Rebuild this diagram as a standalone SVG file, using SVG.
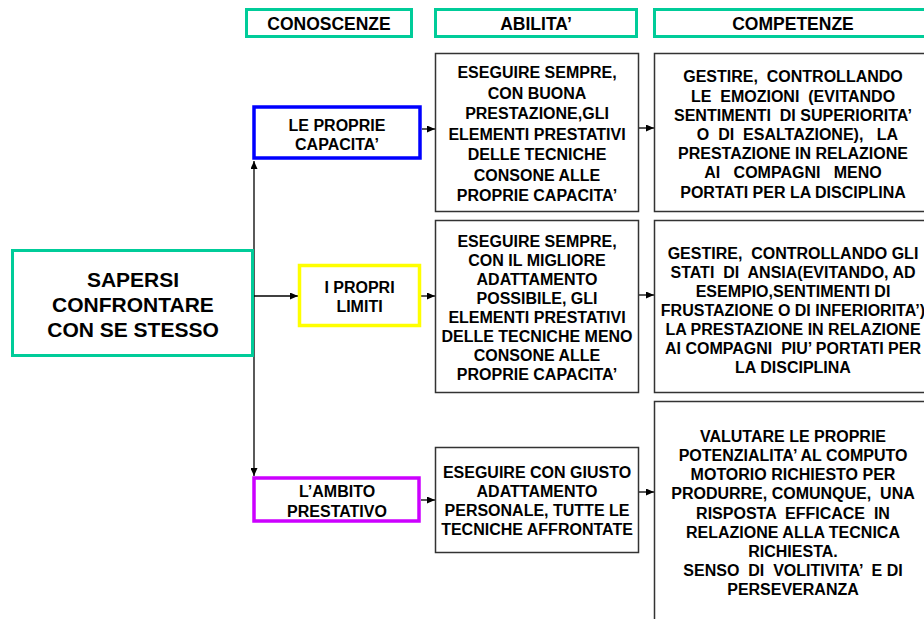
<svg xmlns="http://www.w3.org/2000/svg" width="924" height="619" viewBox="0 0 924 619">
<defs>
<style>
text{font-family:"Liberation Sans",Arial,sans-serif;font-weight:bold;fill:#000;text-anchor:middle;white-space:pre}
.h{font-size:17.5px}
.t{font-size:16px}
.big{font-size:21px}
.hdr{fill:#fff;stroke:#00cc99;stroke-width:3}
.box{fill:#fff;stroke:#333;stroke-width:1.5}
.con{stroke:#000;stroke-width:1.3;fill:none;marker-end:url(#ah)}
</style>
<marker id="ah" markerUnits="userSpaceOnUse" markerWidth="8" markerHeight="7" refX="8" refY="3.5" orient="auto">
<path d="M0,0 L8,3.5 L0,7 z" fill="#000"/>
</marker>
</defs>
<rect width="924" height="619" fill="#fff"/>

<g id="hdr-conoscenze">
<rect class="hdr" x="246.5" y="9.5" width="165" height="27"/>
<text class="h" x="329" y="30">CONOSCENZE</text>
</g>
<g id="hdr-abilita">
<rect class="hdr" x="435.5" y="9.5" width="201" height="27"/>
<text class="h" x="536" y="30">ABILITA’</text>
</g>
<g id="hdr-competenze">
<rect class="hdr" x="654.5" y="9.5" width="280" height="27"/>
<text class="h" x="793" y="30">COMPETENZE</text>
</g>

<g id="connectors">
<path class="con" d="M254,296 V161"/>
<path class="con" d="M254,296 V476"/>
<path class="con" d="M254,296 H298"/>
<path class="con" d="M422,129 H435"/>
<path class="con" d="M421,296 H435"/>
<path class="con" d="M421,500 H435"/>
<path class="con" d="M639,128 H654"/>
<path class="con" d="M639,295 H654"/>
<path class="con" d="M639,492 H654"/>
</g>

<g id="sapersi">
<rect x="12.5" y="250.5" width="240" height="105" fill="#fff" stroke="#00cc99" stroke-width="3"/>
<text class="big" x="133" y="286.5">SAPERSI</text>
<text class="big" x="133" y="311.5">CONFRONTARE</text>
<text class="big" x="133" y="336.5">CON SE STESSO</text>
</g>

<g id="capacita">
<rect x="254" y="107" width="166" height="51" fill="#fff" stroke="#0000ff" stroke-width="3.5"/>
<text class="t" x="337" y="131">LE PROPRIE</text>
<text class="t" x="337" y="150">CAPACITA’</text>
</g>

<g id="limiti">
<rect x="299.5" y="265.5" width="120" height="60" fill="#fff" stroke="#ffff00" stroke-width="3.5"/>
<text class="t" x="359.5" y="293">I PROPRI</text>
<text class="t" x="359.5" y="312">LIMITI</text>
</g>

<g id="ambito">
<rect x="254" y="478" width="165" height="43" fill="#fff" stroke="#cc00ff" stroke-width="3.5"/>
<text class="t" x="337" y="497">L’AMBITO</text>
<text class="t" x="337" y="517">PRESTATIVO</text>
</g>

<g id="abilita1">
<rect class="box" x="435.5" y="53.5" width="203" height="158"/>
<text class="t" x="537" y="78.2">ESEGUIRE SEMPRE,</text>
<text class="t" x="537" y="98.7">CON BUONA</text>
<text class="t" x="537" y="119.2">PRESTAZIONE,GLI</text>
<text class="t" x="537" y="139.7">ELEMENTI PRESTATIVI</text>
<text class="t" x="537" y="160.2">DELLE TECNICHE</text>
<text class="t" x="537" y="180.7">CONSONE ALLE</text>
<text class="t" x="537" y="201.2">PROPRIE CAPACITA’</text>
</g>

<g id="abilita2">
<rect class="box" x="435.5" y="220.5" width="203" height="172"/>
<text class="t" x="537" y="246.7">ESEGUIRE SEMPRE,</text>
<text class="t" x="537" y="265.7">CON IL MIGLIORE</text>
<text class="t" x="537" y="284.7">ADATTAMENTO</text>
<text class="t" x="537" y="303.7">POSSIBILE, GLI</text>
<text class="t" x="537" y="322.7">ELEMENTI PRESTATIVI</text>
<text class="t" x="537" y="341.7">DELLE TECNICHE MENO</text>
<text class="t" x="537" y="360.7">CONSONE ALLE</text>
<text class="t" x="537" y="379.7">PROPRIE CAPACITA’</text>
</g>

<g id="abilita3">
<rect class="box" x="435.5" y="447.5" width="203" height="105"/>
<text class="t" x="537" y="477.5">ESEGUIRE CON GIUSTO</text>
<text class="t" x="537" y="496.8">ADATTAMENTO</text>
<text class="t" x="537" y="516.1">PERSONALE, TUTTE LE</text>
<text class="t" x="537" y="535.4">TECNICHE AFFRONTATE</text>
</g>

<g id="competenze1">
<rect class="box" x="654.5" y="53.5" width="290" height="158"/>
<text class="t" x="793" y="82.4">GESTIRE,  CONTROLLANDO</text>
<text class="t" x="793" y="101.6">LE  EMOZIONI  (EVITANDO</text>
<text class="t" x="793" y="120.8">SENTIMENTI  DI SUPERIORITA’</text>
<text class="t" x="793" y="140">  O  DI  ESALTAZIONE),   LA</text>
<text class="t" x="793" y="159.2">PRESTAZIONE IN RELAZIONE</text>
<text class="t" x="793" y="178.4">AI   COMPAGNI   MENO</text>
<text class="t" x="793" y="197.6">PORTATI PER LA DISCIPLINA</text>
</g>

<g id="competenze2">
<rect class="box" x="654.5" y="220.5" width="290" height="172"/>
<text class="t" x="793" y="258.7">GESTIRE,  CONTROLLANDO GLI</text>
<text class="t" x="793" y="277.7">STATI  DI  ANSIA(EVITANDO, AD</text>
<text class="t" x="793" y="296.7">ESEMPIO,SENTIMENTI DI</text>
<text class="t" x="793" y="315.7">FRUSTAZIONE O DI INFERIORITA’)</text>
<text class="t" x="793" y="334.7">LA PRESTAZIONE IN RELAZIONE</text>
<text class="t" x="793" y="353.7">AI COMPAGNI  PIU’ PORTATI PER</text>
<text class="t" x="793" y="372.7">LA DISCIPLINA</text>
</g>

<g id="competenze3">
<rect class="box" x="654.5" y="401.5" width="290" height="240"/>
<text class="t" x="793" y="441.7">VALUTARE LE PROPRIE</text>
<text class="t" x="793" y="460.9">POTENZIALITA’ AL COMPUTO</text>
<text class="t" x="793" y="480.1">MOTORIO RICHIESTO PER</text>
<text class="t" x="793" y="499.3">PRODURRE, COMUNQUE,  UNA</text>
<text class="t" x="793" y="518.5">RISPOSTA  EFFICACE  IN</text>
<text class="t" x="793" y="537.7">RELAZIONE ALLA TECNICA</text>
<text class="t" x="793" y="556.9">RICHIESTA.</text>
<text class="t" x="793" y="576.1">SENSO  DI  VOLITIVITA’  E DI</text>
<text class="t" x="793" y="595.3">PERSEVERANZA</text>
</g>
</svg>
